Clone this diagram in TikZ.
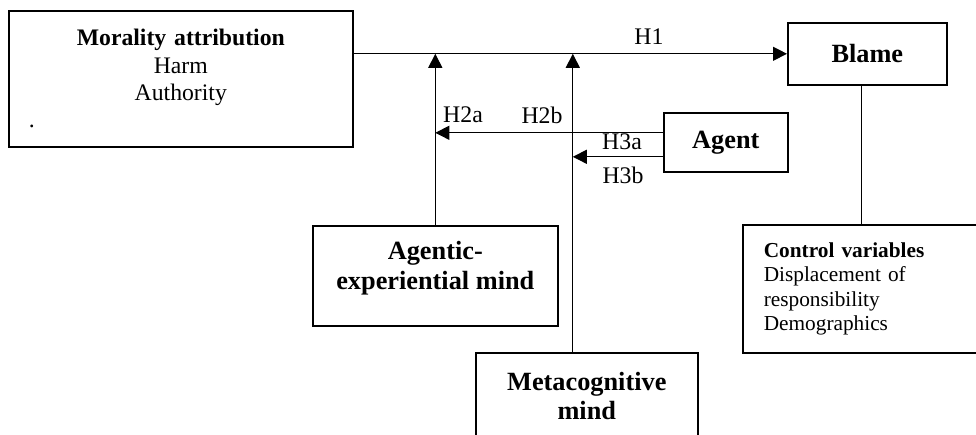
\documentclass[tikz,border=0pt]{standalone}
\usepackage{fontspec}
\setmainfont{Liberation Serif}
\usetikzlibrary{arrows.meta, positioning, calc}
\tikzset{
  box/.style={draw=black, line width=1.6pt, inner sep=0pt, align=center},
  bigbox/.style={box, font=\fontsize{26.3}{29.5}\selectfont\bfseries},
  bigtxt/.style={font=\fontsize{26.3}{29.5}\selectfont\bfseries, align=center, inner sep=0pt},
  hlbl/.style={font=\fontsize{23.8}{27}\selectfont, inner sep=0pt},
  flow/.style={-{Triangle[length=14pt, width=14pt]}, line width=1.2pt},
  link/.style={line width=1.2pt},
}

\begin{document}
\begin{tikzpicture}[x=1pt, y=-1pt]
  \useasboundingbox (0,0) rectangle (976,435);
  \clip (0,0) rectangle (976,435);

  % Boxes
  \node[box, anchor=north west, text width=304pt, inner xsep=20pt, minimum height=136pt,
        font=\fontsize{23.7}{27.3}\selectfont] (moral) at (8,10)
    {\textbf{Morality attribution}\\Harm\\Authority\\\makebox[304pt][l]{.}};
  \node[bigbox, anchor=north west, minimum width=159pt, minimum height=62pt] (blame) at (787,22) {Blame};
  \node[bigbox, anchor=north west, minimum width=124pt, minimum height=59pt] (agent) at (663,112) {Agent};
  \node[box, anchor=north west, minimum width=245pt, minimum height=100pt] (agentic) at (312,225) {};
  \node[bigtxt] (agentictxt) at ([yshift=7.5pt]agentic.center) {Agentic-\\experiential mind};
  \node[box, anchor=north west, minimum width=222pt, minimum height=100pt] (meta) at (475,352) {};
  \node[bigtxt] (metatxt) at ([yshift=7pt]meta.center) {Metacognitive\\mind};
  \node[box, anchor=north west, text width=196pt, inner xsep=21pt, minimum height=128pt, align=left,
        font=\fontsize{21.3}{24.5}\selectfont] (control) at (742,224)
    {\textbf{Control variables}\\Displacement of\\responsibility\\Demographics};

  % Paths
  \coordinate (metatop) at ([xshift=-14pt]meta.north);
  \draw[flow] (moral.east |- blame.west) -- (blame.west);
  \draw[flow] (agentic.north) -- (agentic.north |- blame.west);
  \draw[flow] (metatop) -- (metatop |- blame.west);
  \draw[flow] ([yshift=9.5pt]agent.west) -- ([yshift=9.5pt]agent.west -| agentic.north);
  \draw[flow] ([yshift=-14.5pt]agent.west) -- ([yshift=-14.5pt]agent.west -| metatop);
  \draw[link] (control.north |- blame.south) -- (control.north);

  % Hypotheses
  \node[hlbl] (h1) at (649,37) {H1};
  \node[hlbl] (h2a) at (463,115) {H2a};
  \node[hlbl] (h2b) at (542,115) {H2b};
  \node[hlbl] (h3a) at (622,142) {H3a};
  \node[hlbl] (h3b) at (623,175) {H3b};
\end{tikzpicture}
\end{document}
